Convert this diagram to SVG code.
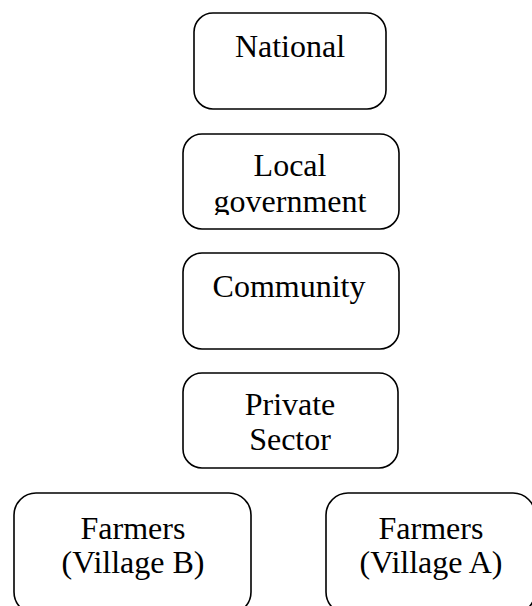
<svg xmlns="http://www.w3.org/2000/svg" width="532" height="606" viewBox="0 0 532 606">
  <style>
    .box { fill: #ffffff; stroke: #000000; stroke-width: 1.6; }
    .lbl { font-family: "Liberation Serif", "Times New Roman", serif; font-size: 32px; fill: #000000; text-anchor: middle; }
  </style>
  <defs>
    <!-- text frame of the local government box: the second line runs past it -->
    <clipPath id="local-gov-text">
      <rect x="183" y="134" width="216" height="81"/>
    </clipPath>
  </defs>
  <rect width="532" height="606" fill="#ffffff"/>
  <g id="connectors"></g>
  <g id="national">
    <rect class="box" x="194" y="13" width="192" height="96" rx="19" ry="19"/>
    <text class="lbl" x="290" y="57">National</text>
  </g>
  <g id="local-government">
    <rect class="box" x="183" y="134" width="216" height="95" rx="19" ry="19"/>
    <g clip-path="url(#local-gov-text)">
      <text class="lbl" x="290" y="176">Local</text>
      <text class="lbl" x="290" y="212">government</text>
    </g>
  </g>
  <g id="community">
    <rect class="box" x="183" y="253" width="216" height="96" rx="19" ry="19"/>
    <text class="lbl" x="289" y="297">Community</text>
  </g>
  <g id="private-sector">
    <rect class="box" x="183" y="373" width="215" height="95" rx="19" ry="19"/>
    <text class="lbl" x="290" y="415">Private</text>
    <text class="lbl" x="290" y="450">Sector</text>
  </g>
  <g id="farmers-village-b">
    <rect class="box" x="14" y="493" width="237" height="121" rx="22" ry="22"/>
    <text class="lbl" x="133" y="539">Farmers</text>
    <text class="lbl" x="133" y="573">(Village B)</text>
  </g>
  <g id="farmers-village-a">
    <rect class="box" x="326" y="493" width="209" height="121" rx="22" ry="22"/>
    <text class="lbl" x="431" y="539">Farmers</text>
    <text class="lbl" x="431" y="573">(Village A)</text>
  </g>
</svg>
